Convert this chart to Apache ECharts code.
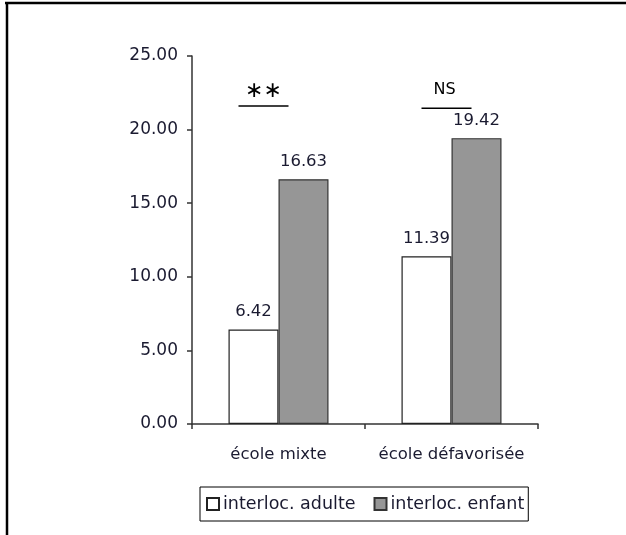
<!DOCTYPE html>
<html>
<head>
<meta charset="utf-8">
<script src="https://cdn.jsdelivr.net/npm/echarts@6/dist/echarts.min.js"></script>
<style>
html,body{margin:0;padding:0;background:#fff;}
#c{width:626px;height:535px;}
</style>
</head>
<body>
<div id="c"></div>
<script>
// ---- data ----
const categories = ['école mixte', 'école défavorisée'];
const seriesNames = ['interloc. adulte', 'interloc. enfant'];
const adultValues = [6.42, 11.39];
const childValues = [16.63, 19.42];
const yTicks = [0, 5, 10, 15, 20, 25];
const sigLabels = ['\u2217\u2217', 'NS'];

const FONT = 'DejaVu Sans';
const TXT = '#1a1a30';

const chart = echarts.init(document.getElementById('c'), null, {renderer: 'canvas'});

const option = {
  backgroundColor: '#ffffff',
  animation: false,
  grid: {left: 192, right: 88, top: 56, bottom: 111, containLabel: false},
  xAxis: {
    type: 'category',
    data: categories,
    axisLine: {lineStyle: {color: '#333', width: 1.5}},
    axisTick: {show: true, length: 5, interval: 0, lineStyle: {color: '#333', width: 1.5}},
    axisLabel: {fontFamily: FONT, fontSize: 16.5, color: TXT, margin: 22, interval: 0, hideOverlap: false}
  },
  yAxis: {
    type: 'value',
    min: yTicks[0],
    max: yTicks[yTicks.length - 1],
    interval: yTicks[1] - yTicks[0],
    splitLine: {show: false},
    axisLine: {show: true, lineStyle: {color: '#333', width: 1.5}},
    axisTick: {show: true, length: 5, lineStyle: {color: '#333', width: 1.5}},
    axisLabel: {fontFamily: FONT, fontSize: 17, color: TXT, margin: 14,
      formatter: v => v.toFixed(2)}
  },
  legend: {
    left: 200, top: 487,
    padding: [8, 4, 8, 6],
    borderColor: '#000', borderWidth: 1,
    itemWidth: 12, itemHeight: 12, itemGap: 18,
    icon: 'rect',
    textStyle: {fontFamily: FONT, fontSize: 17.5, color: TXT, padding: [0, 0, 0, -1]},
    data: seriesNames
  },
  series: [
    {
      name: seriesNames[0], type: 'bar', data: adultValues,
      barWidth: 50, barGap: '0%',
      itemStyle: {color: '#ffffff', borderColor: '#222', borderWidth: 1.2},
      label: {show: true, position: 'top', distance: 9, fontFamily: FONT, fontSize: 16.5, color: TXT,
        formatter: p => p.value.toFixed(2)}
    },
    {
      name: seriesNames[1], type: 'bar', data: childValues,
      barWidth: 50, barGap: '0%',
      itemStyle: {color: '#969696', borderColor: '#333', borderWidth: 1.2},
      label: {show: true, position: 'top', distance: 9, fontFamily: FONT, fontSize: 16.5, color: TXT,
        formatter: p => p.value.toFixed(2)}
    }
  ]
};
chart.setOption(option);

// significance annotations placed relative to the category centers
const sigSpecs = [
  {cat: 0, textDx: -15, textY: 22.6, lineFrom: -40, lineTo: 10, lineY: 21.6, font: '22px DejaVu Sans'},
  {cat: 1, textDx: -7, textY: 22.7, lineFrom: -30, lineTo: 20, lineY: 21.45, font: '16px DejaVu Sans'}
];
const graphics = [
  {type: 'line', shape: {x1: 5, y1: 3, x2: 626, y2: 3}, style: {stroke: '#000', lineWidth: 2.5}},
  {type: 'line', shape: {x1: 7, y1: 2, x2: 7, y2: 535}, style: {stroke: '#000', lineWidth: 2.5}}
];
sigSpecs.forEach((s, i) => {
  const c = chart.convertToPixel({gridIndex: 0}, [s.cat, s.textY]);
  const l = chart.convertToPixel({gridIndex: 0}, [s.cat, s.lineY]);
  graphics.push({type: 'text', x: c[0] + s.textDx, y: c[1],
    style: {text: sigLabels[i], font: s.font, fill: '#000', align: 'center', verticalAlign: 'middle'}});
  graphics.push({type: 'line', shape: {x1: l[0] + s.lineFrom, y1: l[1], x2: l[0] + s.lineTo, y2: l[1]},
    style: {stroke: '#000', lineWidth: 1.5}});
});
chart.setOption({graphic: graphics});
</script>
</body>
</html>
